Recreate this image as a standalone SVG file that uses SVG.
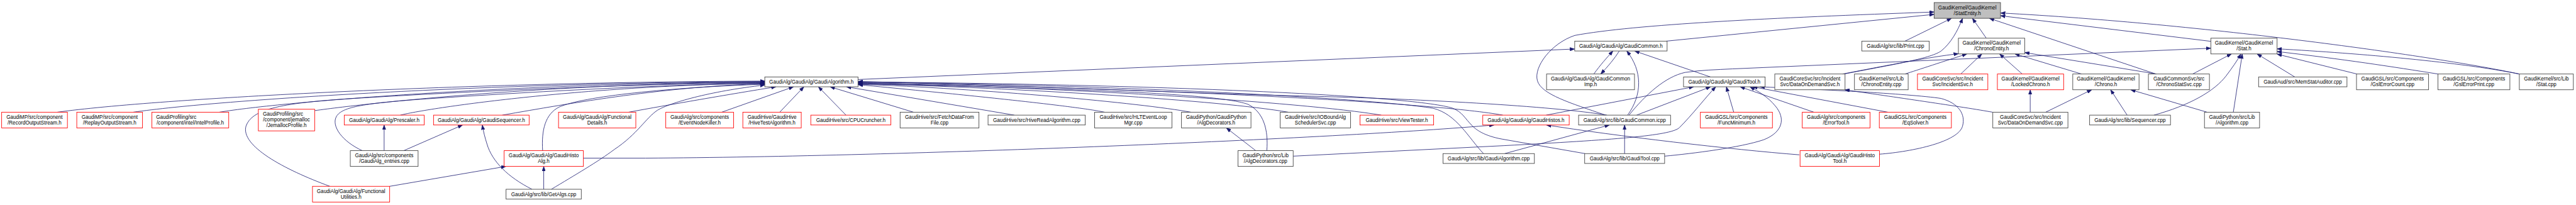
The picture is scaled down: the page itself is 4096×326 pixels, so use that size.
<svg xmlns="http://www.w3.org/2000/svg" width="4096" height="326" viewBox="0 0 4096 326">
<style>
.node rect{fill:#fff;stroke:#404040;stroke-width:1.4}
.node.r rect{stroke:#ff0000}
.node.g rect{fill:#bfbfbf}
.node text{font-family:"Liberation Sans",Arial,sans-serif;font-size:13px;fill:#000;text-anchor:middle}
.node text.l{text-anchor:start}
.e path{fill:none;stroke:#191970;stroke-width:1.3;marker-end:url(#a)}
</style>
<defs>
<marker id="a" viewBox="0 0 12 9" refX="12" refY="4.5" markerWidth="12" markerHeight="9" markerUnits="userSpaceOnUse" orient="auto">
<path d="M0,0 L12,4.5 L0,9 z" fill="#191970" stroke="#191970" stroke-width="0.8"/>
</marker>
</defs>
<rect width="4096" height="326" fill="#fff"/>
<g transform="scale(0.626)">
<g id="edges" class="e">
<path d="M145.6,285 C400,250 1200,208 1942.6,206"/>
<path d="M338.5,285 C560,253 1250,210 1942.6,207"/>
<path d="M557.3,285 C720,258 1300,212 1942.6,208"/>
<path d="M799.3,281 C950,260 1400,212 1942.6,209"/>
<path d="M837.9,473.3 C720,430 610,370 625,320 C640,280 700,262 900,250 C1300,225 1700,212 1942.6,210"/>
<path d="M920.3,382.7 C870,360 840,320 855,295 C870,272 920,262 1100,250 C1400,230 1700,215 1942.6,211"/>
<path d="M1016.8,292.5 C1100,272 1500,216 1942.6,212"/>
<path d="M1275.9,292.5 C1450,262 1700,218 1942.6,213"/>
<path d="M1378.3,382.7 C1375,330 1385,290 1420,272 C1480,245 1700,222 1942.6,214"/>
<path d="M1596.8,285 C1700,266 1850,240 1971,220.5"/>
<path d="M1400.4,480.8 C1460,445 1520,410 1560,380 C1620,340 1640,300 1670,280 C1700,262 1800,232 1942.6,216"/>
<path d="M1833.2,285 L2015.6,220.5"/>
<path d="M1980.5,285 L2041.9,220.5"/>
<path d="M2148.9,292.5 L2078.7,220.5"/>
<path d="M2320.3,285 L2108.5,220.5"/>
<path d="M2576.4,292.5 L2150,220.5"/>
<path d="M2805.7,285 C2760,275 2600,255 2179.4,215"/>
<path d="M3024.9,285 C2900,262 2500,225 2179.4,214"/>
<path d="M3217.8,382.7 C3222,330 3210,285 3170,265 C3100,240 2800,226 2179.4,213"/>
<path d="M3272.2,285 C3100,255 2600,224 2179.4,212"/>
<path d="M3508.5,292.5 C3300,258 2700,222 2179.4,211"/>
<path d="M3817.2,292.5 C3650,262 3000,226 2179.4,210"/>
<path d="M3768.1,390.2 C3730,350 3700,290 3640,275 C3450,245 2700,212 2179.4,209"/>
<path d="M4026,390.2 L3815,353.3 C3770,345 3750,330 3740,320 C3720,300 3715,285 3690,275 C3600,245 3000,215 2179.4,208"/>
<path d="M4081.6,292.5 C3950,270 3600,250 3270,243 C2900,232 2500,214 2179.4,207"/>
<path d="M2179.4,202 L3999.8,124.5"/>
<path d="M4048.3,188 C4065,165 4080,148 4097,129.5"/>
<path d="M4113.1,129.5 C4100,150 4085,168 4065.8,188"/>
<path d="M4134.2,292.5 C4172,240 4172,180 4132,129.5"/>
<path d="M4344.6,195.5 L4152,129.5"/>
<path d="M4157,292.5 L4345,220.5"/>
<path d="M4078,292.5 C3990,262 3915,240 3905,205 C3895,170 3940,110 4000,90 C4150,62 4500,45 4912.7,30.5"/>
<path d="M4232.4,104.5 L4912.7,36.5"/>
<path d="M4838.8,104.5 L4957,46.5"/>
<path d="M4684,188 C4800,165 4900,150 4930,130 C4955,110 4972,80 4985,46.5"/>
<path d="M4680,188 C4800,165 4900,145 4974.4,136.5"/>
<path d="M4838.8,188 C4870,178 4940,155 4996,137"/>
<path d="M4137.7,292.5 C4180,240 4230,195 4280,184 C4320,178 4360,177 4400,175 L5615.6,122.5"/>
<path d="M4980.4,188 L5034,137"/>
<path d="M5136.5,188 L5079,137"/>
<path d="M5287.3,188 L5118,137"/>
<path d="M5478,188 L5142.8,133.5"/>
<path d="M5476,188 L5053,46.5"/>
<path d="M5045.3,97 L5010,46.5"/>
<path d="M5615.6,105 L5081.4,40"/>
<path d="M6398.9,188 C6200,145 5600,60 5081.4,33"/>
<path d="M6398.9,188 C6250,158 6000,136 5783.9,124"/>
<path d="M6192.4,188 C6080,170 5950,150 5783.9,131"/>
<path d="M5986.7,188 L5783.9,137.5"/>
<path d="M5828.8,195.5 L5733,137"/>
<path d="M5569.3,188 L5668,137"/>
<path d="M5471,292.5 C5560,268 5625,232 5655,192 C5670,172 5682,155 5692,137"/>
<path d="M5672.7,285 L5695.5,137"/>
<path d="M5606.1,285 L5412,228"/>
<path d="M5403,292.5 L5361,228"/>
<path d="M5196.1,285 L5313,228"/>
<path d="M5156.8,285 L5156.8,228"/>
<path d="M5061.1,285 C4990,272 4800,245 4686,228"/>
<path d="M4773.9,391.7 C4860,385 4975,360 4985,320 C4993,290 4975,262 4930,250 C4850,238 4600,226 4470,220.5"/>
<path d="M4228.2,396.7 C4300,390 4420,375 4480,355 C4530,335 4535,300 4510,270 C4490,245 4465,232 4445,220.5"/>
<path d="M4403.8,285 L4385,220.5"/>
<path d="M4607.3,285 L4420,220.5"/>
<path d="M4795,285 L4452,220.5"/>
<path d="M3927.2,292.5 L4302,220.5"/>
<path d="M4570.5,393.3 C4400,380 4100,345 3928,317.5"/>
<path d="M1481.8,401.7 L1640,401.7 C2300,398 3400,352 3795,317.5"/>
<path d="M989.8,473.3 L1285,422.7"/>
<path d="M1381.1,480.8 L1381.1,422.7"/>
<path d="M1351.3,480.8 C1290,450 1250,410 1237,366 C1232,350 1228,335 1225,317.5"/>
<path d="M975.7,382.7 L975.7,317.5"/>
<path d="M1025.5,382.7 L1175,317.5"/>
<path d="M3189.7,382.7 L3115,325"/>
<path d="M3284.7,396.7 L3820,370 C4100,355 4240,345 4265,325 C4300,290 4330,250 4358,220.5"/>
<path d="M3822,390.2 L4088,317.5"/>
<path d="M4126.5,390.2 L4126.5,317.5"/>
</g>
<g id="n1" class="node r"><rect x="4.2" y="285" width="167" height="40"/><text x="87.7" y="302">GaudiMP/src/component</text><text x="87.7" y="316.3">/RecordOutputStream.h</text></g>
<g id="n2" class="node r"><rect x="195" y="285" width="167" height="40"/><text x="278.5" y="302">GaudiMP/src/component</text><text x="278.5" y="316.3">/ReplayOutputStream.h</text></g>
<g id="n3" class="node r"><rect x="385.8" y="285" width="195.2" height="40"/><text class="l" x="396.5" y="302">GaudiProfiling/src</text><text x="483.4" y="316.3">/component/intel/IntelProfile.h</text></g>
<g id="n4" class="node r"><rect x="656.2" y="277.5" width="143.1" height="55"/><text class="l" x="667.8" y="294.5">GaudiProfiling/src</text><text x="727.75" y="308.8">/component/jemalloc</text><text x="727.75" y="323.1">/JemallocProfile.h</text></g>
<g id="n5" class="node r"><rect x="874.4" y="292.5" width="203" height="25"/><text x="975.9" y="309.5">GaudiAlg/GaudiAlg/Prescaler.h</text></g>
<g id="n6" class="node"><rect x="889.8" y="382.7" width="172.2" height="40"/><text x="975.9" y="399.7">GaudiAlg/src/components</text><text x="975.9" y="414">/GaudiAlg_entries.cpp</text></g>
<g id="n7" class="node r"><rect x="793.7" y="473.3" width="196.1" height="40"/><text x="891.75" y="490.3">GaudiAlg/GaudiAlg/Functional</text><text x="891.75" y="504.6">Utilities.h</text></g>
<g id="n8" class="node r"><rect x="1101.2" y="292.5" width="242.8" height="25"/><text x="1222.6" y="309.5">GaudiAlg/GaudiAlg/GaudiSequencer.h</text></g>
<g id="n9" class="node r"><rect x="1280.5" y="382.7" width="201.3" height="40"/><text x="1381.15" y="399.7">GaudiAlg/GaudiAlg/GaudiHisto</text><text x="1381.15" y="414">Alg.h</text></g>
<g id="n10" class="node r"><rect x="1418.7" y="285" width="196.3" height="40"/><text x="1516.85" y="302">GaudiAlg/GaudiAlg/Functional</text><text x="1516.85" y="316.3">Details.h</text></g>
<g id="n11" class="node"><rect x="1285.4" y="480.8" width="191.1" height="25"/><text x="1380.95" y="497.8">GaudiAlg/src/lib/GetAlgs.cpp</text></g>
<g id="n12" class="node"><rect x="1942.6" y="195.5" width="236.8" height="25"/><text x="2061" y="212.5">GaudiAlg/GaudiAlg/GaudiAlgorithm.h</text></g>
<g id="n13" class="node r"><rect x="1691.1" y="285" width="172.2" height="40"/><text x="1777.2" y="302">GaudiAlg/src/components</text><text x="1777.2" y="316.3">/EventNodeKiller.h</text></g>
<g id="n14" class="node r"><rect x="1886.8" y="285" width="148.4" height="40"/><text x="1961" y="302">GaudiHive/GaudiHive</text><text x="1961" y="316.3">/HiveTestAlgorithm.h</text></g>
<g id="n15" class="node r"><rect x="2059.4" y="292.5" width="203.4" height="25"/><text x="2161.1" y="309.5">GaudiHive/src/CPUCruncher.h</text></g>
<g id="n16" class="node"><rect x="2286.3" y="285" width="200.3" height="40"/><text x="2386.45" y="302">GaudiHive/src/FetchDataFrom</text><text x="2386.45" y="316.3">File.cpp</text></g>
<g id="n17" class="node"><rect x="2509.7" y="292.5" width="246.9" height="25"/><text x="2633.15" y="309.5">GaudiHive/src/HiveReadAlgorithm.cpp</text></g>
<g id="n18" class="node"><rect x="2780.4" y="285" width="196.4" height="40"/><text x="2878.6" y="302">GaudiHive/src/HLTEventLoop</text><text x="2878.6" y="316.3">Mgr.cpp</text></g>
<g id="n19" class="node"><rect x="3001" y="285" width="176.5" height="40"/><text x="3089.25" y="302">GaudiPython/GaudiPython</text><text x="3089.25" y="316.3">/AlgDecorators.h</text></g>
<g id="n20" class="node"><rect x="3144.5" y="382.7" width="140.2" height="40"/><text x="3214.6" y="399.7">GaudiPython/src/Lib</text><text x="3214.6" y="414">/AlgDecorators.cpp</text></g>
<g id="n21" class="node"><rect x="3251.8" y="285" width="178.8" height="40"/><text x="3341.2" y="302">GaudiHive/src/IOBoundAlg</text><text x="3341.2" y="316.3">SchedulerSvc.cpp</text></g>
<g id="n22" class="node r"><rect x="3454.5" y="292.5" width="187" height="25"/><text x="3548" y="309.5">GaudiHive/src/ViewTester.h</text></g>
<g id="n23" class="node r"><rect x="3766.3" y="292.5" width="219.5" height="25"/><text x="3876.05" y="309.5">GaudiAlg/GaudiAlg/GaudiHistos.h</text></g>
<g id="n24" class="node"><rect x="3665.3" y="390.2" width="232.1" height="25"/><text x="3781.35" y="407.2">GaudiAlg/src/lib/GaudiAlgorithm.cpp</text></g>
<g id="n25" class="node"><rect x="3999.8" y="104.5" width="234.7" height="25"/><text x="4117.15" y="121.5">GaudiAlg/GaudiAlg/GaudiCommon.h</text></g>
<g id="n26" class="node"><rect x="3928.3" y="188" width="223.4" height="40"/><text x="4040" y="205">GaudiAlg/GaudiAlg/GaudiCommon</text><text x="4040" y="219.3">Imp.h</text></g>
<g id="n27" class="node"><rect x="4009.7" y="292.5" width="233.6" height="25"/><text x="4126.5" y="309.5">GaudiAlg/src/lib/GaudiCommon.icpp</text></g>
<g id="n28" class="node"><rect x="4025.1" y="390.2" width="203.1" height="25"/><text x="4126.65" y="407.2">GaudiAlg/src/lib/GaudiTool.cpp</text></g>
<g id="n29" class="node"><rect x="4276.2" y="195.5" width="207.3" height="25"/><text x="4379.85" y="212.5">GaudiAlg/GaudiAlg/GaudiTool.h</text></g>
<g id="n30" class="node r"><rect x="4319" y="285" width="183" height="40"/><text x="4410.5" y="302">GaudiGSL/src/Components</text><text x="4410.5" y="316.3">/FuncMinimum.h</text></g>
<g id="n31" class="node"><rect x="4729" y="104.5" width="171.2" height="25"/><text x="4814.6" y="121.5">GaudiAlg/src/lib/Print.cpp</text></g>
<g id="n32" class="node"><rect x="4508" y="188" width="178.5" height="40"/><text x="4597.25" y="205">GaudiCoreSvc/src/Incident</text><text x="4597.25" y="219.3">Svc/DataOnDemandSvc.h</text></g>
<g id="n33" class="node"><rect x="4710.4" y="188" width="136.4" height="40"/><text x="4778.6" y="205">GaudiKernel/src/Lib</text><text x="4778.6" y="219.3">/ChronoEntity.cpp</text></g>
<g id="n34" class="node r"><rect x="4870.4" y="188" width="178.8" height="40"/><text x="4959.8" y="205">GaudiCoreSvc/src/Incident</text><text x="4959.8" y="219.3">Svc/IncidentSvc.h</text></g>
<g id="n35" class="node r"><rect x="4577.8" y="285" width="172.2" height="40"/><text x="4663.9" y="302">GaudiAlg/src/components</text><text x="4663.9" y="316.3">/ErrorTool.h</text></g>
<g id="n36" class="node r"><rect x="4773.5" y="285" width="183.1" height="40"/><text x="4865.05" y="302">GaudiGSL/src/Components</text><text x="4865.05" y="316.3">/EqSolver.h</text></g>
<g id="n37" class="node r"><rect x="4572.2" y="382.7" width="201.7" height="40"/><text x="4673.05" y="399.7">GaudiAlg/GaudiAlg/GaudiHisto</text><text x="4673.05" y="414">Tool.h</text></g>
<g id="n38" class="node g"><rect x="4912.7" y="6.5" width="168.7" height="40"/><text x="4997.05" y="23.5">GaudiKernel/GaudiKernel</text><text x="4997.05" y="37.8">/StatEntity.h</text></g>
<g id="n39" class="node"><rect x="4974.4" y="97" width="168.4" height="40"/><text x="5058.6" y="114">GaudiKernel/GaudiKernel</text><text x="5058.6" y="128.3">/ChronoEntity.h</text></g>
<g id="n40" class="node r"><rect x="5073.4" y="188" width="168.3" height="40"/><text x="5157.55" y="205">GaudiKernel/GaudiKernel</text><text x="5157.55" y="219.3">/LockedChrono.h</text></g>
<g id="n41" class="node"><rect x="5264.9" y="188" width="168.3" height="40"/><text x="5349.05" y="205">GaudiKernel/GaudiKernel</text><text x="5349.05" y="219.3">/Chrono.h</text></g>
<g id="n42" class="node"><rect x="5061.8" y="285" width="190.8" height="40"/><text x="5157.2" y="302">GaudiCoreSvc/src/Incident</text><text x="5157.2" y="316.3">Svc/DataOnDemandSvc.cpp</text></g>
<g id="n43" class="node"><rect x="5307.7" y="292.5" width="205.4" height="25"/><text x="5410.4" y="309.5">GaudiAlg/src/lib/Sequencer.cpp</text></g>
<g id="n44" class="node"><rect x="5615.6" y="97" width="168.3" height="40"/><text x="5699.75" y="114">GaudiKernel/GaudiKernel</text><text x="5699.75" y="128.3">/Stat.h</text></g>
<g id="n45" class="node"><rect x="5457" y="188" width="155" height="40"/><text x="5534.5" y="205">GaudiCommonSvc/src</text><text x="5534.5" y="219.3">/ChronoStatSvc.cpp</text></g>
<g id="n46" class="node"><rect x="5736.9" y="195.5" width="224.5" height="25"/><text x="5849.15" y="212.5">GaudiAud/src/MemStatAuditor.cpp</text></g>
<g id="n47" class="node"><rect x="5599.4" y="285" width="140" height="40"/><text x="5669.4" y="302">GaudiPython/src/Lib</text><text x="5669.4" y="316.3">/Algorithm.cpp</text></g>
<g id="n48" class="node"><rect x="5985.6" y="188" width="183.1" height="40"/><text x="6077.15" y="205">GaudiGSL/src/Components</text><text x="6077.15" y="219.3">/GslErrorCount.cpp</text></g>
<g id="n49" class="node"><rect x="6192.4" y="188" width="182.8" height="40"/><text x="6283.8" y="205">GaudiGSL/src/Components</text><text x="6283.8" y="219.3">/GslErrorPrint.cpp</text></g>
<g id="n50" class="node"><rect x="6399.2" y="188" width="137.2" height="40"/><text x="6467.8" y="205">GaudiKernel/src/Lib</text><text x="6467.8" y="219.3">/Stat.cpp</text></g>
</g>
</svg>
